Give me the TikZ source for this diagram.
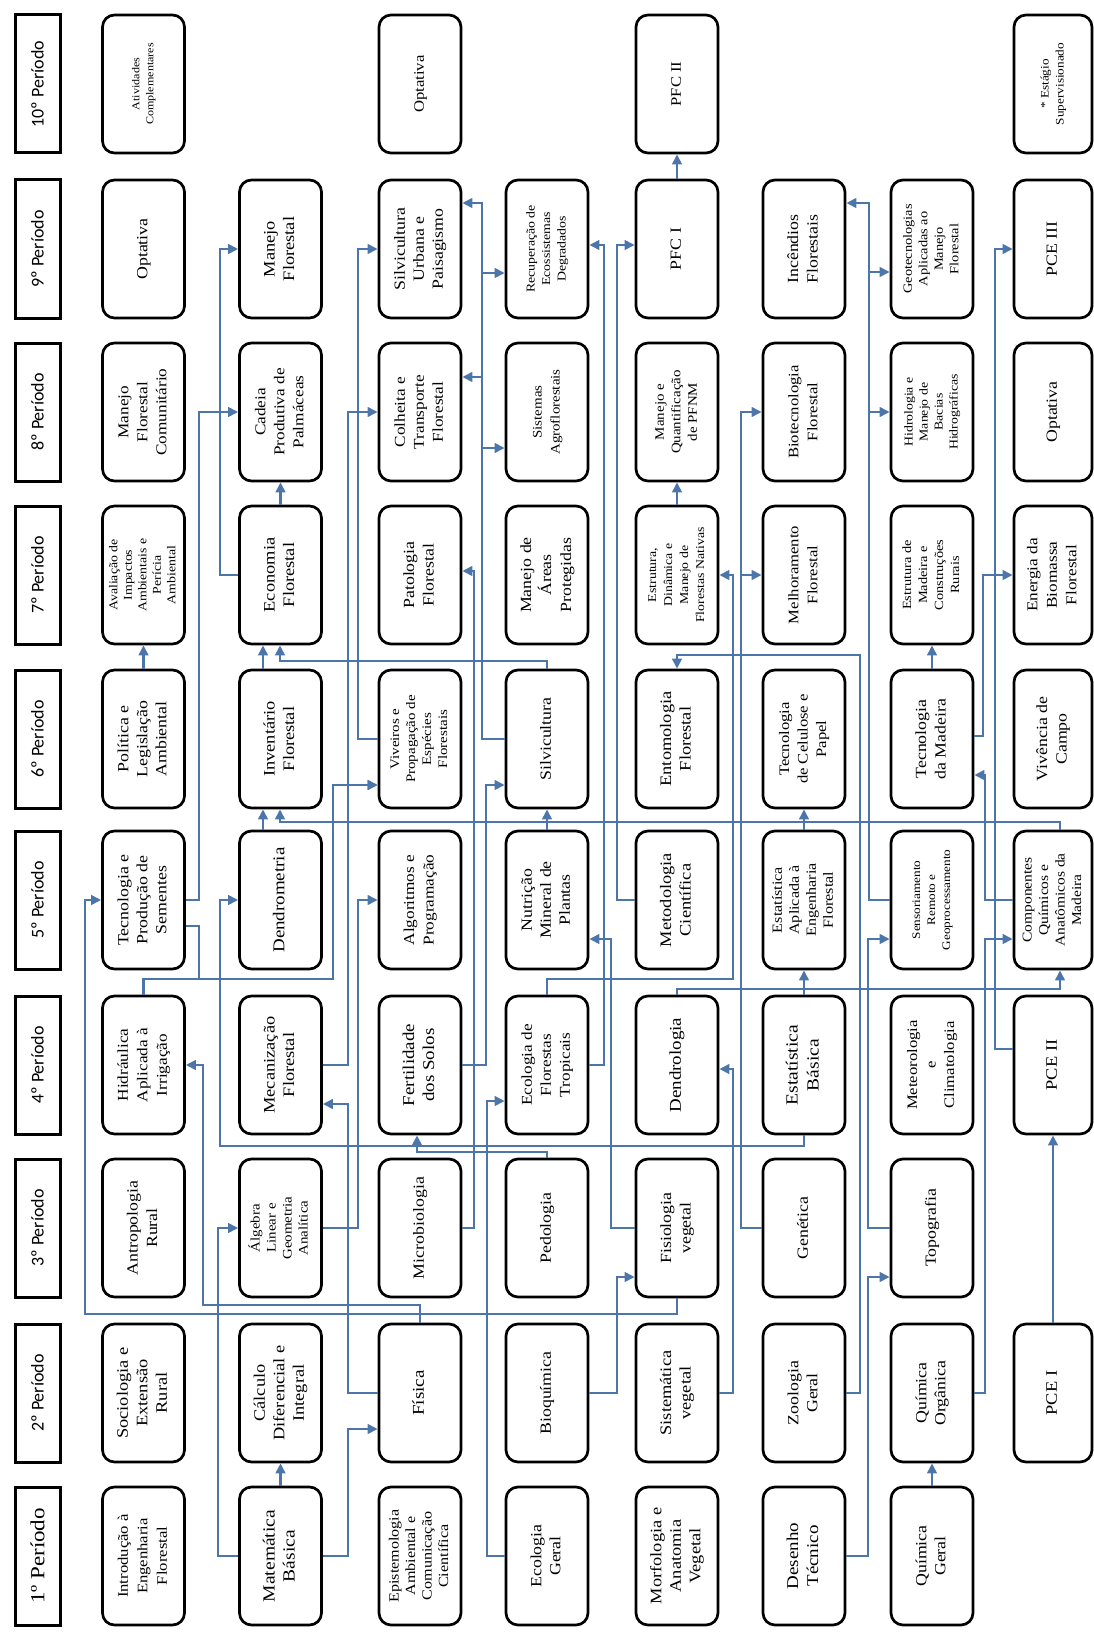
\documentclass[tikz,border=0pt]{standalone}
\usepackage{fontspec}
\setmainfont{Liberation Serif}
\newfontfamily\bxfont{Liberation Serif}[FakeStretch=1.15]
\newfontfamily\hdfont{Carlito}
\usetikzlibrary{arrows.meta}
\definecolor{conncol}{RGB}{76,117,170}
\newcommand\bt[3]{\rotatebox{90}{\bxfont\fontsize{#1}{#2}\selectfont\begin{tabular}{@{}c@{}}#3\end{tabular}}}
\newcommand\hdt[1]{\rotatebox{90}{\hdfont\fontsize{18}{22}\selectfont #1}}
\tikzset{
  course/.style={draw, line width=2.7pt, rounded corners=12pt, minimum width=82pt, minimum height=138pt, inner sep=0pt},
  lastcol/.style={course, minimum width=78pt},
  hdr/.style={draw, line width=3pt, minimum width=45pt, minimum height=138pt, inner sep=0pt},
  conn/.style={draw=conncol, line width=2.7pt, -{Triangle[length=10pt,width=9.5pt]}}
}
\begin{document}
\begin{tikzpicture}[x=1pt,y=-1pt]
\fill[white] (0,0) rectangle (1093,1632);
\useasboundingbox (0,0) rectangle (1093,1632);
% headers
\node[hdr] (h1) at (37.5,1556) {\rotatebox{90}{\bxfont\fontsize{20}{24}\selectfont 1º Período}};
\node[hdr] (h2) at (37.5,1393) {\hdt{2º Período}};
\node[hdr] (h3) at (37.5,1228) {\hdt{3º Período}};
\node[hdr] (h4) at (37.5,1065) {\hdt{4º Período}};
\node[hdr] (h5) at (37.5,900) {\hdt{5º Período}};
\node[hdr] (h6) at (37.5,739) {\hdt{6º Período}};
\node[hdr] (h7) at (37.5,575) {\hdt{7º Período}};
\node[hdr] (h8) at (37.5,412) {\hdt{8º Período}};
\node[hdr] (h9) at (37.5,249) {\hdt{9º Período}};
\node[hdr] (h10) at (37.5,84) {\hdt{10º Período}};
% P1
\node[course] (intro) at (143.5,1556) {\bt{14.5}{19.5}{Introdução à\\Engenharia\\Florestal}};
\node[course] (mb) at (280.5,1556) {\bt{17}{20}{Matemática\\Básica}};
\node[course] (epi) at (420,1556) {\bt{14}{16.5}{Epistemologia\\Ambiental e\\Comunicação\\Científica}};
\node[course] (eg) at (547,1556) {\bt{15.5}{19}{Ecologia\\Geral}};
\node[course] (morf) at (677,1556) {\bt{16}{19.5}{Morfologia e\\Anatomia\\Vegetal}};
\node[course] (des) at (804,1556) {\bt{16.5}{20}{Desenho\\Técnico}};
\node[course] (qg) at (932,1556) {\bt{15.5}{19}{Química\\Geral}};
% P2
\node[course] (soc) at (143.5,1393) {\bt{16}{19.5}{Sociologia e\\Extensão\\Rural}};
\node[course] (calc) at (280.5,1393) {\bt{16}{19.5}{Cálculo\\Diferencial e\\Integral}};
\node[course] (fis) at (420,1393) {\bt{16.5}{19}{Física}};
\node[course] (bio) at (547,1393) {\bt{15.5}{19}{Bioquímica}};
\node[course] (sis) at (677,1393) {\bt{16}{19.5}{Sistemática\\vegetal}};
\node[course] (zoo) at (804,1393) {\bt{15.5}{19}{Zoologia\\Geral}};
\node[course] (qo) at (932,1393) {\bt{15.5}{19}{Química\\Orgânica}};
\node[lastcol] (pce1) at (1053,1393) {\bt{16}{19}{PCE I}};
% P3
\node[course] (antro) at (143.5,1228) {\bt{15.5}{19.5}{Antropologia\\Rural}};
\node[course] (alg) at (280.5,1228) {\bt{13}{16}{Álgebra\\Linear e\\Geometria\\Analítica}};
\node[course] (mic) at (420,1228) {\bt{15.5}{19}{Microbiologia}};
\node[course] (ped) at (547,1228) {\bt{15.5}{19}{Pedologia}};
\node[course] (fisv) at (677,1228) {\bt{15.5}{19.5}{Fisiologia\\vegetal}};
\node[course] (gen) at (804,1228) {\bt{15.5}{19}{Genética}};
\node[course] (topo) at (932,1228) {\bt{15.5}{19}{Topografia}};
% P4
\node[course] (hid) at (143.5,1065) {\bt{15}{19.5}{Hidráulica\\Aplicada à\\Irrigação}};
\node[course] (mec) at (280.5,1065) {\bt{16}{19.5}{Mecanização\\Florestal}};
\node[course] (fert) at (420,1065) {\bt{16.5}{20}{Fertilidade\\dos Solos}};
\node[course] (eft) at (547,1065) {\bt{15}{19}{Ecologia de\\Florestas\\Tropicais}};
\node[course] (dendl) at (677,1065) {\bt{16.5}{19}{Dendrologia}};
\node[course] (eb) at (804,1065) {\bt{17}{21}{Estatística\\Básica}};
\node[course] (meteo) at (932,1065) {\bt{14.5}{18.5}{Meteorologia\\e\\Climatologia}};
\node[lastcol] (pce2) at (1053,1065) {\bt{16}{19}{PCE II}};
% P5
\node[course] (tps) at (143.5,900) {\bt{15.5}{19}{Tecnologia e\\Produção de\\Sementes}};
\node[course] (dendm) at (280.5,900) {\bt{16.5}{19}{Dendrometria}};
\node[course] (algo) at (420,900) {\bt{15}{19.5}{Algoritmos e\\Programação}};
\node[course] (nut) at (547,900) {\bt{15.5}{19}{Nutrição\\Mineral de\\Plantas}};
\node[course] (met) at (677,900) {\bt{16}{19.5}{Metodologia\\Científica}};
\node[course] (ea) at (804,900) {\bt{14}{17}{Estatística\\Aplicada à\\Engenharia\\Florestal}};
\node[course] (sens) at (932,900) {\bt{11.5}{15}{Sensoriamento\\Remoto e\\Geoprocessamento}};
\node[lastcol] (comp) at (1053,900) {\bt{13.5}{16.5}{Componentes\\Químicos e\\Anatômicos da\\Madeira}};
% P6
\node[course] (pol) at (143.5,739) {\bt{15.5}{19}{Política e\\Legislação\\Ambiental}};
\node[course] (inv) at (280.5,739) {\bt{16}{19.5}{Inventário\\Florestal}};
\node[course] (viv) at (420,739) {\bt{13}{16}{Viveiros e\\Propagação de\\Espécies\\Florestais}};
\node[course] (sil) at (547,739) {\bt{15.5}{19}{Silvicultura}};
\node[course] (ent) at (677,739) {\bt{16}{19.5}{Entomologia\\Florestal}};
\node[course] (cel) at (804,739) {\bt{14.5}{18.5}{Tecnologia\\de Celulose e\\Papel}};
\node[course] (tmad) at (932,739) {\bt{15.5}{19.5}{Tecnologia\\da Madeira}};
\node[lastcol] (vivc) at (1053,739) {\bt{15.5}{19.5}{Vivência de\\Campo}};
% P7
\node[course] (aval) at (143.5,575) {\bt{12}{14.5}{Avaliação de\\Impactos\\Ambientais e\\Perícia\\Ambiental}};
\node[course] (eco) at (280.5,575) {\bt{16}{19.5}{Economia\\Florestal}};
\node[course] (pat) at (420,575) {\bt{15.5}{19.5}{Patologia\\Florestal}};
\node[course] (map) at (547,575) {\bt{15.5}{20}{Manejo de\\Áreas\\Protegidas}};
\node[course] (edm) at (677,575) {\bt{12}{16}{Estrutura,\\Dinâmica e\\Manejo de\\Florestas Nativas}};
\node[course] (mel) at (804,575) {\bt{14.5}{19}{Melhoramento\\Florestal}};
\node[course] (emad) at (932,575) {\bt{12.5}{16}{Estrutura de\\Madeira e\\Construções\\Rurais}};
\node[lastcol] (ener) at (1053,575) {\bt{15}{19.5}{Energia da\\Biomassa\\Florestal}};
% P8
\node[course] (mfc) at (143.5,412) {\bt{15}{19}{Manejo\\Florestal\\Comunitário}};
\node[course] (cad) at (280.5,412) {\bt{15}{19}{Cadeia\\Produtiva de\\Palmáceas}};
\node[course] (col) at (420,412) {\bt{15}{19}{Colheita e\\Transporte\\Florestal}};
\node[course] (saf) at (547,412) {\bt{13}{18}{Sistemas\\Agroflorestais}};
\node[course] (pfnm) at (677,412) {\bt{13}{16.5}{Manejo e\\Quantificação\\de PFNM}};
\node[course] (biot) at (804,412) {\bt{14.5}{19}{Biotecnologia\\Florestal}};
\node[course] (hidr) at (932,412) {\bt{12}{15}{Hidrologia e\\Manejo de\\Bacias\\Hidrográficas}};
\node[lastcol] (opt8) at (1053,412) {\bt{15.5}{19}{Optativa}};
% P9
\node[course] (opt9) at (143.5,249) {\bt{15.5}{19}{Optativa}};
\node[course] (mf) at (280.5,249) {\bt{16}{19.5}{Manejo\\Florestal}};
\node[course] (su) at (420,249) {\bt{15.5}{19}{Silvicultura\\Urbana e\\Paisagismo}};
\node[course] (rec) at (547,249) {\bt{12}{15.5}{Recuperação de\\Ecossistemas\\Degradados}};
\node[course] (pfc1) at (677,249) {\bt{15.5}{19}{PFC I}};
\node[course] (inc) at (804,249) {\bt{15.5}{19.5}{Incêndios\\Florestais}};
\node[course] (geo) at (932,249) {\bt{12.5}{15.5}{Geotecnologias\\Aplicadas ao\\Manejo\\Florestal}};
\node[lastcol] (pce3) at (1053,249) {\bt{15.5}{19}{PCE III}};
% P10
\node[course] (ativ) at (143.5,84) {\bt{10.5}{14}{Atividades\\Complementares}};
\node[course] (opt10) at (420,84) {\bt{14.5}{19}{Optativa}};
\node[course] (pfc2) at (677,84) {\bt{14.5}{19}{PFC II}};
\node[lastcol] (est) at (1053,84) {\bt{11.5}{15}{* Estágio\\Supervisionado}};
% connectors
\draw[conn] (mb.north) -- (calc.south);
\draw[conn] (mb.west) -- (218,1556) |- (alg.west);
\draw[conn] (mb.east) -- (348,1556) |- (fis.west |- 0,1429);
\draw[conn] (qg.north) -- (qo.south);
\draw[conn] (des.east) -- (868,1556) |- (topo.west |- 0,1277);
\draw[conn] (eg.west) -- (487,1556) |- (eft.west |- 0,1101);
\draw[conn] (pce1.north) -- (pce2.south);
\draw[conn] (fis.north) |- (203,1305) |- (hid.east);
\draw[conn] (fis.west) -- (348,1393) |- (mec.east |- 0,1104);
\draw[conn] (bio.east) -- (617,1393) |- (fisv.west |- 0,1277);
\draw[conn] (sis.east) -- (733,1393) |- (dendl.east |- 0,1069);
\draw[conn] (zoo.east) -- (860,1393) |- (677,655) -- (ent.north);
\draw[conn] (qo.east) -- (985,1393) |- (comp.west |- 0,939);
\draw[conn] (alg.east) -- (358,1228) |- (algo.west);
\draw[conn] (mic.east) -- (474,1228) |- (pat.east |- 0,571);
\draw[conn] (ped.north) |- (417,1152) -- (fert.south -| 417,0);
\draw[conn] (fisv.south) |- (85,1314) |- (tps.west);
\draw[conn] (fisv.west) -- (611,1228) |- (nut.east |- 0,939);
\draw[conn] (gen.west) -- (741,1228) |- (biot.west);
\draw[conn] (gen.west) -- (741,1228) |- (mel.west);
\draw[conn] (topo.west) -- (868,1228) |- (sens.west |- 0,939);
\draw[conn] (hid.north) |- (333,979) |- (viv.west |- 0,785);
\draw[conn] (mec.east) -- (348,1065) |- (col.west);
\draw[conn] (fert.east) -- (486,1065) |- (sil.west |- 0,785);
\draw[conn] (eft.east) -- (604,1065) |- (rec.east |- 0,245);
\draw[conn] (eft.north) |- (733,979) |- (edm.east);
\draw[conn] (dendl.north) |- (1060,989) -- (comp.south -| 1060,0);
\draw[conn] (eb.north) -- (ea.south);
\draw[conn] (eb.south) |- (220,1146) |- (dendm.west);
\draw[conn] (pce2.west |- 0,1049) -- (995,1049) |- (pce3.west);
\draw[conn] (tps.east) -- (199,900) |- (cad.west);
\draw[conn] (tps.east |- 0,926) -| (199,979) -| (333,785) -- (viv.west |- 0,785);
\draw[conn] (dendm.north -| 263,0) -- (inv.south -| 263,0);
\draw[conn] (nut.north) -- (sil.south);
\draw[conn] (met.west) -- (617,900) |- (pfc1.west |- 0,245);
\draw[conn] (ea.north) |- (280,822) -- (inv.south -| 280,0);
\draw[conn] (sens.west) -- (869,900) |- (inc.east |- 0,203);
\draw[conn] (sens.west) -- (869,900) |- (geo.west |- 0,272);
\draw[conn] (sens.west) -- (869,900) |- (hidr.west);
\draw[conn] (comp.west) -- (985,900) |- (tmad.east |- 0,775);
\draw[conn] (comp.north -| 1060,0) |- (804,822) -- (cel.south);
\draw[conn] (pol.north) -- (aval.south);
\draw[conn] (inv.north -| 263,0) -- (eco.south -| 263,0);
\draw[conn] (viv.west) -- (358,739) |- (su.west);
\draw[conn] (sil.north) |- (280,661) -- (eco.south -| 280,0);
\draw[conn] (sil.west) -- (482,739) |- (su.east |- 0,203);
\draw[conn] (sil.west) -- (482,739) |- (rec.west |- 0,273);
\draw[conn] (sil.west) -- (482,739) |- (col.east |- 0,377);
\draw[conn] (sil.west) -- (482,739) |- (saf.west |- 0,448);
\draw[conn] (tmad.north) -- (emad.south);
\draw[conn] (tmad.east |- 0,736) -- (983,736) |- (ener.west);
\draw[conn] (eco.north) -- (cad.south);
\draw[conn] (eco.west) -- (220,575) |- (mf.west);
\draw[conn] (edm.north) -- (pfnm.south);
\draw[conn] (pfc1.north) -- (pfc2.south);
\end{tikzpicture}
\end{document}
